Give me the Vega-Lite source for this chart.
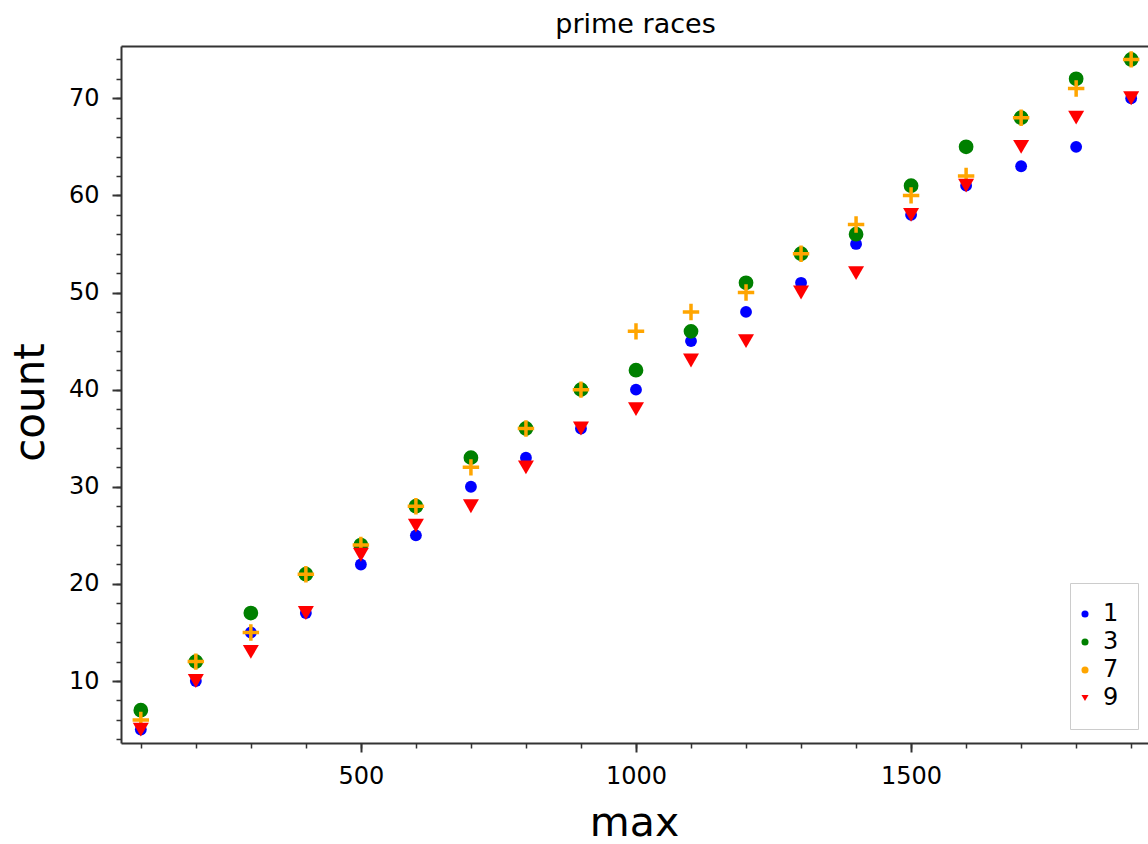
{
  "$schema": "https://vega.github.io/schema/vega-lite/v6.json",
  "width": 1027,
  "height": 697,
  "autosize": {"type": "none"},
  "padding": {"left": 121, "top": 46, "right": 0, "bottom": 101},
  "background": "white",
  "title": {"text": "prime races", "fontSize": 27, "font": "DejaVu Sans", "fontWeight": "normal", "color": "black", "anchor": "middle", "baseline": "alphabetic", "offset": -16, "dx": 1},
  "config": {
    "view": {"stroke": null},
    "font": "DejaVu Sans",
    "axis": {"domainColor": "#333333", "tickColor": "#333333", "labelColor": "black", "titleColor": "black", "labelFont": "DejaVu Sans", "titleFont": "DejaVu Sans", "grid": false, "domainWidth": 2},
    "legend": {"orient": "none", "legendX": 949, "legendY": 537, "title": null, "labelFontSize": 24, "labelFont": "DejaVu Sans", "labelColor": "black", "symbolSize": 50, "fillColor": "white", "strokeColor": "#cccccc", "padding": 19, "rowPadding": 4, "labelOffset": 6, "symbolStrokeWidth": 0, "symbolOffset": -16}
  },
  "data": {"values": [
    {"max": 100, "count": 5, "series": "1"}, {"max": 200, "count": 10, "series": "1"}, {"max": 300, "count": 15, "series": "1"}, {"max": 400, "count": 17, "series": "1"}, {"max": 500, "count": 22, "series": "1"}, {"max": 600, "count": 25, "series": "1"}, {"max": 700, "count": 30, "series": "1"}, {"max": 800, "count": 33, "series": "1"}, {"max": 900, "count": 36, "series": "1"}, {"max": 1000, "count": 40, "series": "1"}, {"max": 1100, "count": 45, "series": "1"}, {"max": 1200, "count": 48, "series": "1"}, {"max": 1300, "count": 51, "series": "1"}, {"max": 1400, "count": 55, "series": "1"}, {"max": 1500, "count": 58, "series": "1"}, {"max": 1600, "count": 61, "series": "1"}, {"max": 1700, "count": 63, "series": "1"}, {"max": 1800, "count": 65, "series": "1"}, {"max": 1900, "count": 70, "series": "1"},
    {"max": 100, "count": 7, "series": "3"}, {"max": 200, "count": 12, "series": "3"}, {"max": 300, "count": 17, "series": "3"}, {"max": 400, "count": 21, "series": "3"}, {"max": 500, "count": 24, "series": "3"}, {"max": 600, "count": 28, "series": "3"}, {"max": 700, "count": 33, "series": "3"}, {"max": 800, "count": 36, "series": "3"}, {"max": 900, "count": 40, "series": "3"}, {"max": 1000, "count": 42, "series": "3"}, {"max": 1100, "count": 46, "series": "3"}, {"max": 1200, "count": 51, "series": "3"}, {"max": 1300, "count": 54, "series": "3"}, {"max": 1400, "count": 56, "series": "3"}, {"max": 1500, "count": 61, "series": "3"}, {"max": 1600, "count": 65, "series": "3"}, {"max": 1700, "count": 68, "series": "3"}, {"max": 1800, "count": 72, "series": "3"}, {"max": 1900, "count": 74, "series": "3"},
    {"max": 100, "count": 6, "series": "7"}, {"max": 200, "count": 12, "series": "7"}, {"max": 300, "count": 15, "series": "7"}, {"max": 400, "count": 21, "series": "7"}, {"max": 500, "count": 24, "series": "7"}, {"max": 600, "count": 28, "series": "7"}, {"max": 700, "count": 32, "series": "7"}, {"max": 800, "count": 36, "series": "7"}, {"max": 900, "count": 40, "series": "7"}, {"max": 1000, "count": 46, "series": "7"}, {"max": 1100, "count": 48, "series": "7"}, {"max": 1200, "count": 50, "series": "7"}, {"max": 1300, "count": 54, "series": "7"}, {"max": 1400, "count": 57, "series": "7"}, {"max": 1500, "count": 60, "series": "7"}, {"max": 1600, "count": 62, "series": "7"}, {"max": 1700, "count": 68, "series": "7"}, {"max": 1800, "count": 71, "series": "7"}, {"max": 1900, "count": 74, "series": "7"},
    {"max": 100, "count": 5, "series": "9"}, {"max": 200, "count": 10, "series": "9"}, {"max": 300, "count": 13, "series": "9"}, {"max": 400, "count": 17, "series": "9"}, {"max": 500, "count": 23, "series": "9"}, {"max": 600, "count": 26, "series": "9"}, {"max": 700, "count": 28, "series": "9"}, {"max": 800, "count": 32, "series": "9"}, {"max": 900, "count": 36, "series": "9"}, {"max": 1000, "count": 38, "series": "9"}, {"max": 1100, "count": 43, "series": "9"}, {"max": 1200, "count": 45, "series": "9"}, {"max": 1300, "count": 50, "series": "9"}, {"max": 1400, "count": 52, "series": "9"}, {"max": 1500, "count": 58, "series": "9"}, {"max": 1600, "count": 61, "series": "9"}, {"max": 1700, "count": 65, "series": "9"}, {"max": 1800, "count": 68, "series": "9"}, {"max": 1900, "count": 70, "series": "9"}
  ]},
  "layer": [
    {
      "transform": [{"filter": "datum.series === '1'"}],
      "mark": {"type": "point", "filled": true, "opacity": 1, "size": 140},
      "encoding": {
        "x": {"field": "max", "type": "quantitative", "scale": {"domain": [64, 1930.6], "nice": false, "zero": false},
          "axis": {"orient": "bottom", "values": [500, 1000, 1500], "format": "d", "tickSize": 9, "tickWidth": 2, "labelFontSize": 24, "labelPadding": 12, "title": "max", "titleFontSize": 41, "titleFontWeight": "normal", "titleBaseline": "alphabetic", "titleX": 513, "titleY": 92, "titleAlign": "center"}},
        "y": {"field": "count", "type": "quantitative", "scale": {"domain": [3.62, 75.38], "nice": false, "zero": false},
          "axis": {"orient": "left", "values": [10, 20, 30, 40, 50, 60, 70], "format": "d", "tickSize": 9, "tickWidth": 2, "labelFontSize": 24, "labelPadding": 13, "title": "count", "titleFontSize": 42, "titleFontWeight": "normal", "titleAngle": -90, "titleBaseline": "alphabetic", "titleX": -78, "titleY": 356, "titleAlign": "center"}},
        "color": {"field": "series", "type": "nominal",
          "scale": {"domain": ["1", "3", "7", "9"], "range": ["#0000ff", "#008000", "#ffa500", "#ff0000"]},
          "legend": {"encode": {"symbols": {"update": {
              "fill": {"signal": "datum.value === '1' ? '#0000ff' : datum.value === '3' ? '#008000' : datum.value === '7' ? '#ffa500' : '#ff0000'"},
              "fillOpacity": {"value": 1},
              "strokeWidth": {"value": 0},
              "size": {"value": 50}
            }}}}},
        "shape": {"field": "series", "type": "nominal",
          "scale": {"domain": ["1", "3", "7", "9"], "range": ["circle", "circle", "circle", "triangle-down"]}}
      }
    },
    {
      "transform": [{"filter": "datum.series === '3'"}],
      "mark": {"type": "point", "filled": true, "opacity": 1, "size": 218},
      "encoding": {
        "x": {"field": "max", "type": "quantitative", "scale": {"domain": [64, 1930.6], "nice": false, "zero": false}, "axis": null},
        "y": {"field": "count", "type": "quantitative", "scale": {"domain": [3.62, 75.38], "nice": false, "zero": false}, "axis": null},
        "color": {"field": "series", "type": "nominal", "scale": {"domain": ["1", "3", "7", "9"], "range": ["#0000ff", "#008000", "#ffa500", "#ff0000"]}},
        "shape": {"field": "series", "type": "nominal", "scale": {"domain": ["1", "3", "7", "9"], "range": ["circle", "circle", "circle", "triangle-down"]}}
      }
    },
    {
      "transform": [{"filter": "datum.series === '7'"}],
      "mark": {"type": "point", "filled": false, "opacity": 1, "shape": "M-1,0L1,0M0,-1L0,1", "size": 270, "strokeWidth": 3.5},
      "encoding": {
        "x": {"field": "max", "type": "quantitative", "scale": {"domain": [64, 1930.6], "nice": false, "zero": false}, "axis": null},
        "y": {"field": "count", "type": "quantitative", "scale": {"domain": [3.62, 75.38], "nice": false, "zero": false}, "axis": null},
        "color": {"field": "series", "type": "nominal", "scale": {"domain": ["1", "3", "7", "9"], "range": ["#0000ff", "#008000", "#ffa500", "#ff0000"]}}
      }
    },
    {
      "transform": [{"filter": "datum.series === '9'"}],
      "mark": {"type": "point", "filled": true, "opacity": 1, "size": 256},
      "encoding": {
        "x": {"field": "max", "type": "quantitative", "scale": {"domain": [64, 1930.6], "nice": false, "zero": false}, "axis": null},
        "y": {"field": "count", "type": "quantitative", "scale": {"domain": [3.62, 75.38], "nice": false, "zero": false}, "axis": null},
        "color": {"field": "series", "type": "nominal", "scale": {"domain": ["1", "3", "7", "9"], "range": ["#0000ff", "#008000", "#ffa500", "#ff0000"]}},
        "shape": {"field": "series", "type": "nominal", "scale": {"domain": ["1", "3", "7", "9"], "range": ["circle", "circle", "circle", "triangle-down"]}}
      }
    },
    {
      "mark": {"type": "point", "opacity": 0},
      "encoding": {
        "x": {"field": "max", "type": "quantitative", "scale": {"domain": [64, 1930.6], "nice": false, "zero": false},
          "axis": {"orient": "bottom", "values": [100, 200, 300, 400, 500, 600, 700, 800, 900, 1000, 1100, 1200, 1300, 1400, 1500, 1600, 1700, 1800, 1900], "tickSize": 5, "tickWidth": 1.5, "labels": false, "domain": false, "title": null}},
        "y": {"field": "count", "type": "quantitative", "scale": {"domain": [3.62, 75.38], "nice": false, "zero": false},
          "axis": {"orient": "left", "values": [4, 6, 8, 10, 12, 14, 16, 18, 20, 22, 24, 26, 28, 30, 32, 34, 36, 38, 40, 42, 44, 46, 48, 50, 52, 54, 56, 58, 60, 62, 64, 66, 68, 70, 72, 74], "tickSize": 5, "tickWidth": 1.5, "labels": false, "domain": false, "title": null}}
      }
    },
    {
      "mark": {"type": "point", "opacity": 0},
      "encoding": {
        "x": {"field": "max", "type": "quantitative", "scale": {"domain": [64, 1930.6], "nice": false, "zero": false},
          "axis": {"orient": "top", "ticks": false, "labels": false, "domain": true, "title": null}},
        "y": {"field": "count", "type": "quantitative", "scale": {"domain": [3.62, 75.38], "nice": false, "zero": false}, "axis": null}
      }
    }
  ],
  "resolve": {"axis": {"x": "independent", "y": "independent"}}
}
